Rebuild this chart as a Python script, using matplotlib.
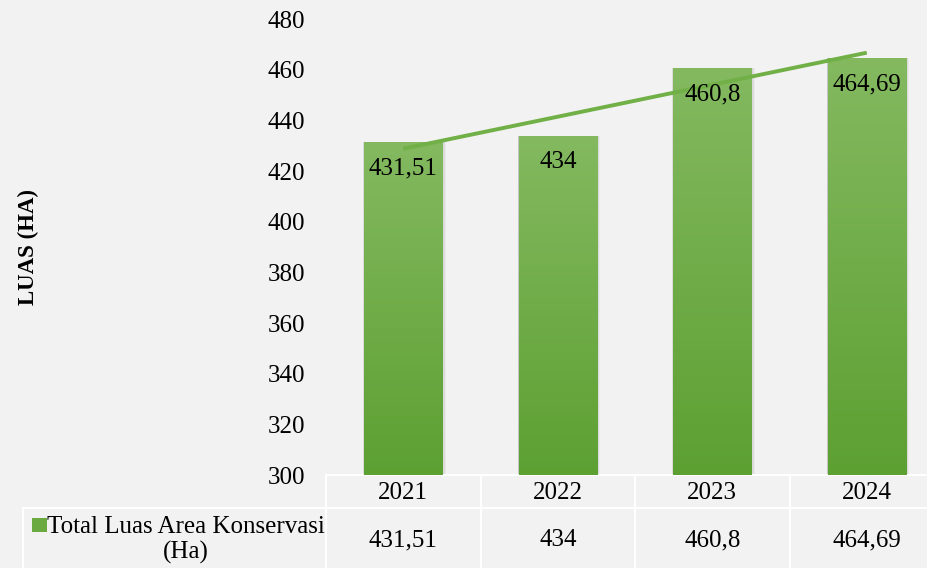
import numpy as np
import matplotlib
matplotlib.use("Agg")
import matplotlib.pyplot as plt
from matplotlib.colors import LinearSegmentedColormap
from matplotlib.patches import Rectangle
import matplotlib.transforms as mtransforms

years = ["2021", "2022", "2023", "2024"]
values = [431.51, 434, 460.8, 464.69]
labels = ["431,51", "434", "460,8", "464,69"]
series_name = "Total Luas Area Konservasi\n(Ha)"

plt.rcParams['font.family'] = ['Liberation Serif', 'DejaVu Serif']

bg = "#F2F2F2"
fs = 18
fig = plt.figure(figsize=(9.27, 5.68), dpi=100, facecolor=bg)
W, H = 927, 568
# plot area in pixels (right edge runs past the picture, as in the cropped original)
left, right, top, bottom = 326, 944, 19, 475
ax = fig.add_axes([left / W, 1 - bottom / H, (right - left) / W, (bottom - top) / H])
ax.set_facecolor(bg)
ax.set_xlim(-0.5, len(years) - 0.5)
ax.set_ylim(300, 480)
ax.set_yticks(np.arange(300, 481, 20))
ax.tick_params(axis='y', length=0, pad=15, labelsize=fs)
ax.set_xticks([])
for s in ax.spines.values():
    s.set_visible(False)

cmap = LinearSegmentedColormap.from_list("g", ["#5DA032", "#84B960"])
x = np.arange(len(years))
bw = 0.505
bars = ax.bar(x, values, width=bw, color="none", zorder=3)
grad = np.linspace(0, 1, 256).reshape(-1, 1)
for b, v in zip(bars, values):
    x0 = b.get_x()
    # soft shadow
    for k, a in enumerate([0.10, 0.06, 0.03]):
        off = 0.005 * (k + 1)
        sh = Rectangle((x0 - off * 0.5, 300), bw + off * 2, v - 300 - off * 10, facecolor="#000000",
                       alpha=a, edgecolor="none", zorder=2)
        ax.add_patch(sh)
    im = ax.imshow(grad, cmap=cmap, origin="lower", aspect="auto",
                   extent=(x0, x0 + bw, 300, v), zorder=3, interpolation="bilinear")
    im.set_clip_path(b)

ax.set_xlim(-0.5, len(years) - 0.5)
ax.set_ylim(300, 480)

for xi, v, lab in zip(x, values, labels):
    ax.annotate(lab, (xi, v), xytext=(0, -19), textcoords="offset points",
                ha="center", va="center", fontsize=fs, zorder=5)

# linear trend line
coef = np.polyfit(x + 1, values, 1)
ax.plot(x, np.polyval(coef, x + 1), color="#70B046", lw=2.8, zorder=4,
        solid_capstyle="butt")

fig.text(28 / W, 1 - 247 / H, "LUAS (HA)", rotation=90, ha="center", va="center",
         fontsize=16.5, fontweight="bold")

# data table below the plot
tr = mtransforms.blended_transform_factory(ax.transData, fig.transFigure)
y_top = 1 - bottom / H
y_mid = 1 - 508 / H
lc = "white"
ax.plot([-0.5, len(years) - 0.5], [y_top, y_top], transform=tr, color=lc, lw=1.5, clip_on=False)
ax.plot([-0.5, len(years) - 0.5], [y_mid, y_mid], transform=tr, color=lc, lw=1.5, clip_on=False)
fig.lines.append(plt.Line2D([23 / W, left / W], [y_mid, y_mid], transform=fig.transFigure, color=lc, lw=1.5))
fig.lines.append(plt.Line2D([23 / W, 23 / W], [y_mid, 0], transform=fig.transFigure, color=lc, lw=1.5))
for i in range(len(years)):
    ax.plot([i - 0.5, i - 0.5], [y_top, 0], transform=tr, color=lc, lw=1.5, clip_on=False)
    ax.text(i, 1 - 493 / H, years[i], transform=tr, ha="center", va="center", fontsize=fs)
    ax.text(i, 1 - 540 / H, labels[i], transform=tr, ha="center", va="center", fontsize=fs)

fig.patches.append(Rectangle((32 / W, 1 - 532 / H), 15 / W, 14 / H, transform=fig.transFigure,
                             facecolor="#6AAA40", edgecolor="none"))
fig.text(186 / W, 1 - 540 / H, series_name, ha="center", va="center", fontsize=fs,
         linespacing=1.22)

fig.savefig("out.png", dpi=100, facecolor=bg)
